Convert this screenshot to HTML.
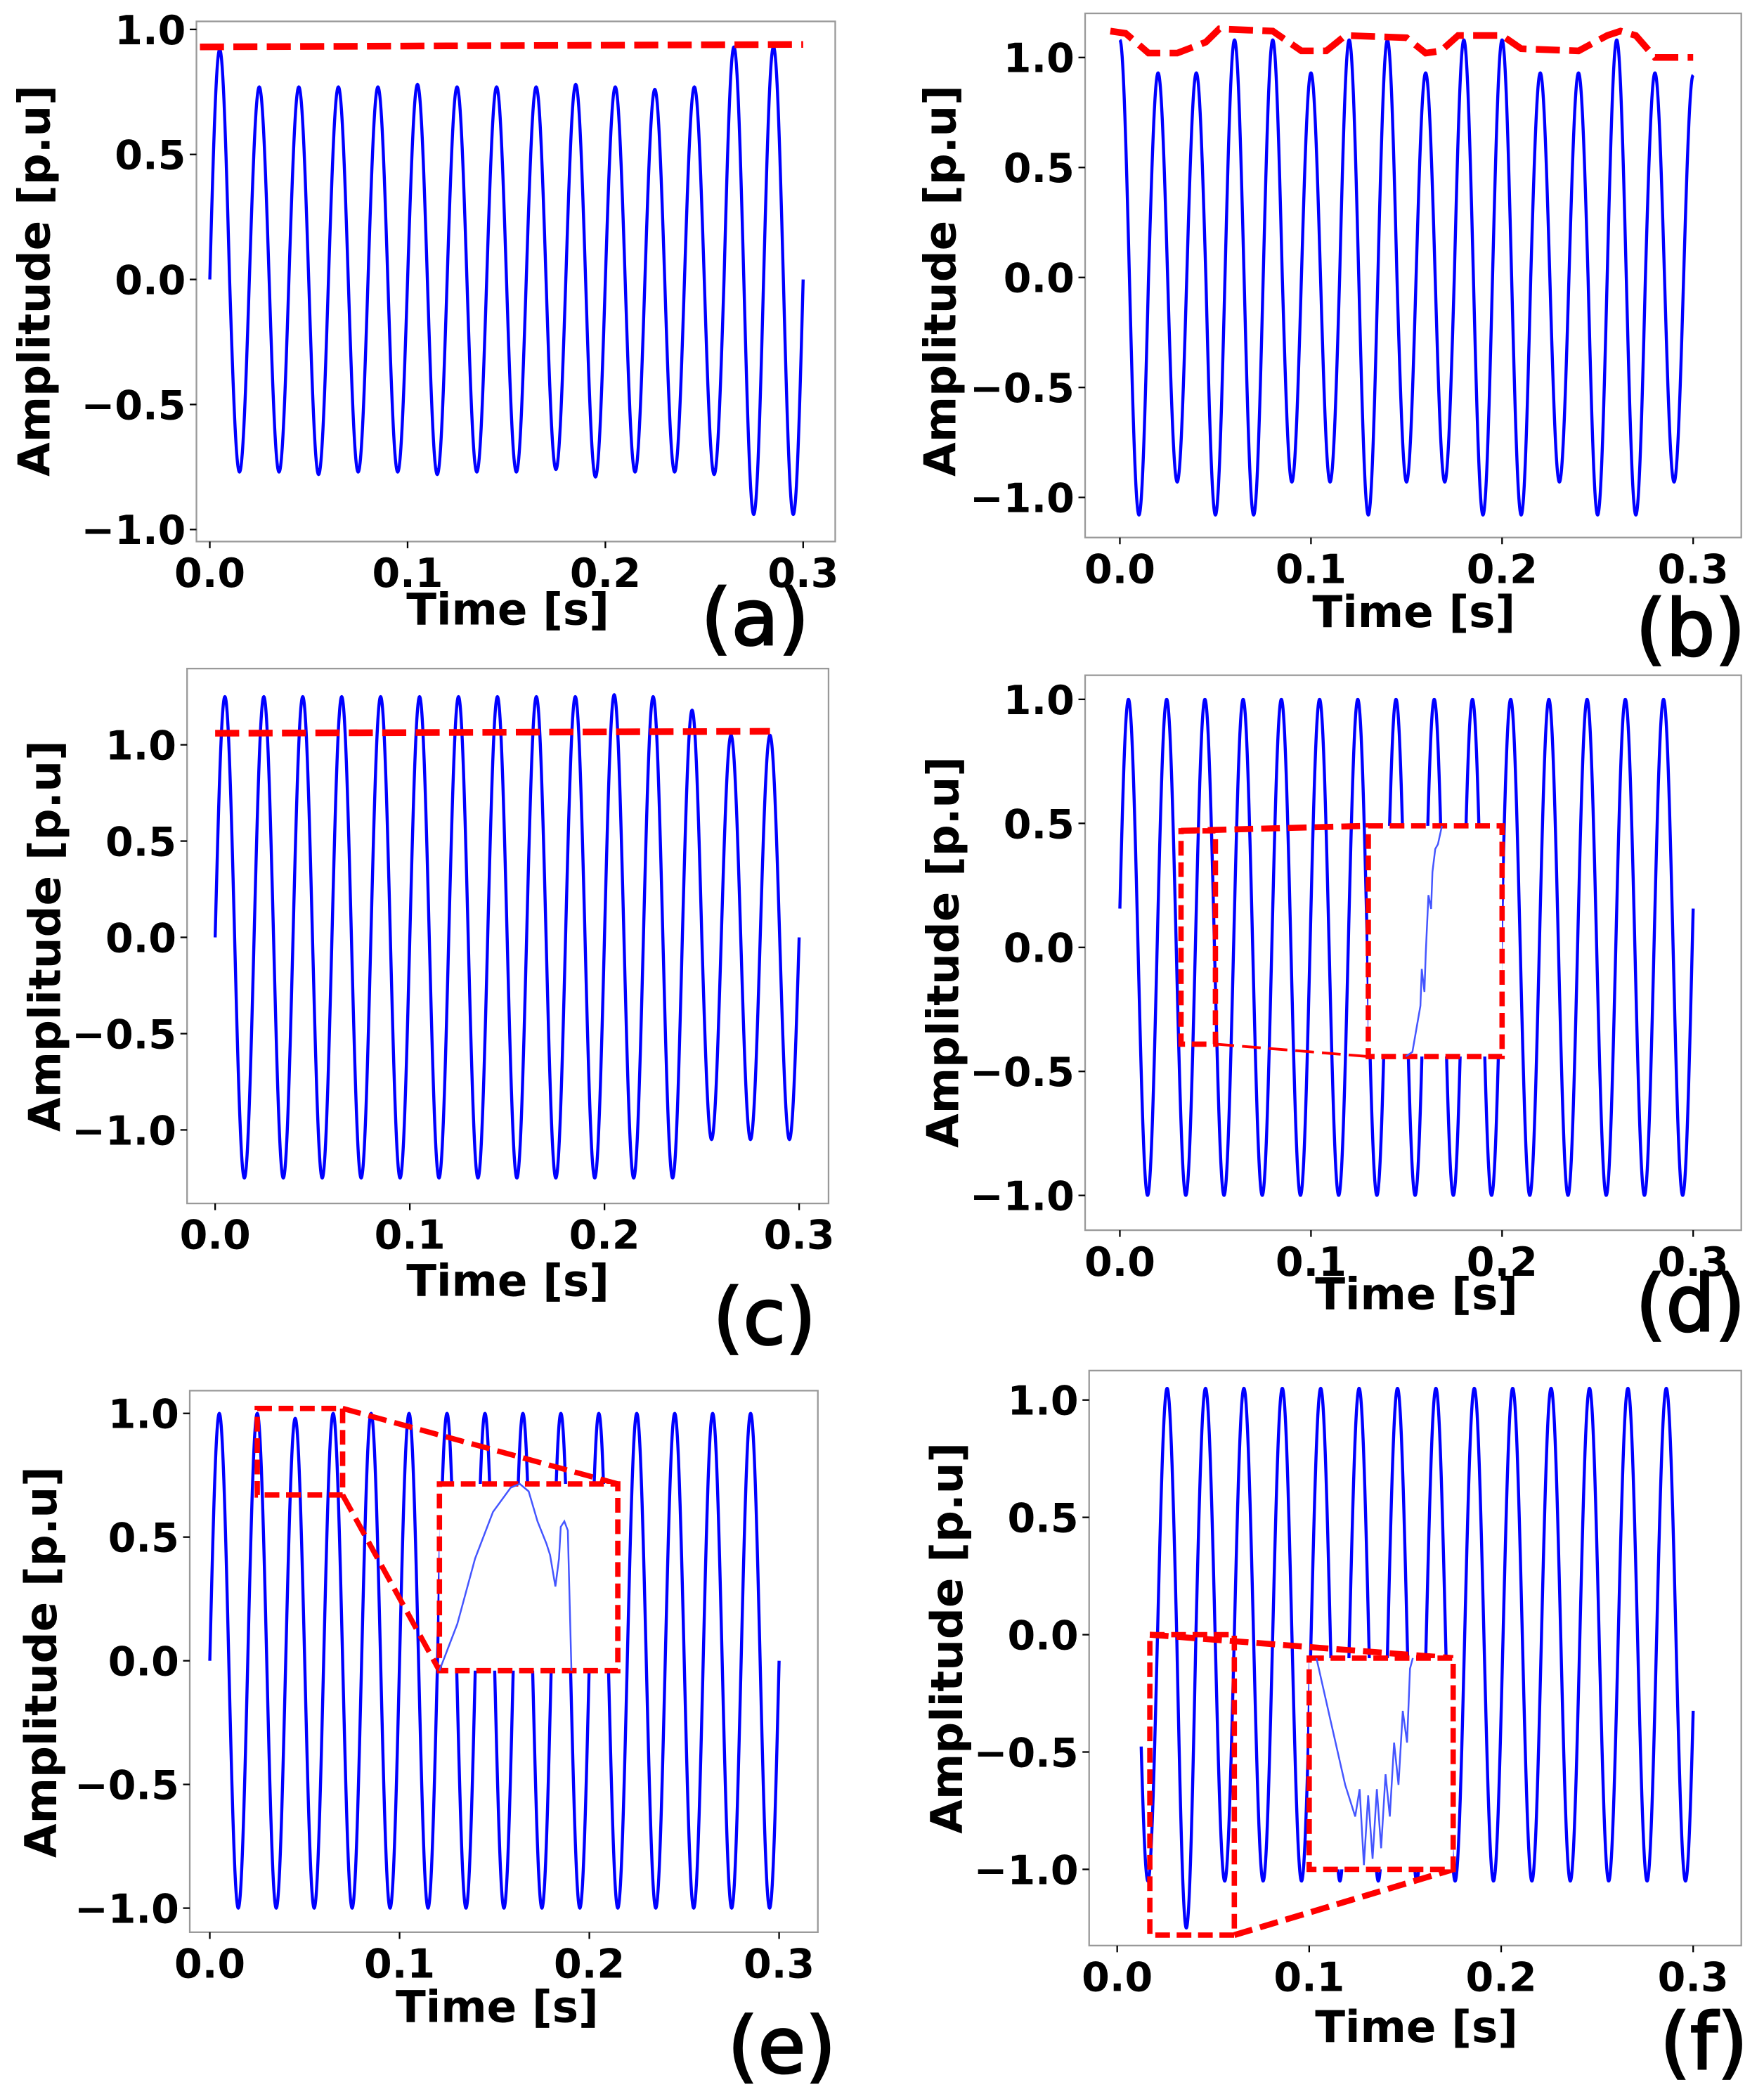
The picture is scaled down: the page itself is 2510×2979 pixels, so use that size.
<!DOCTYPE html>
<html><head><meta charset="utf-8"><style>
html,body{margin:0;padding:0;background:#fff}
svg{display:block}
text{font-family:"DejaVu Sans","Liberation Sans",sans-serif;font-weight:bold;fill:#000}
</style></head><body>
<svg id="fig" width="2510" height="2979" viewBox="0 0 1320 1566" preserveAspectRatio="none" xmlns="http://www.w3.org/2000/svg"></svg>
<script>
// ---- data ----
const xTicks = [0.0, 0.1, 0.2, 0.3];
const xTickLabels = ["0.0", "0.1", "0.2", "0.3"];
const yTicksAll = [1.0, 0.5, 0.0, -0.5, -1.0];
const yTickLabelsAll = ["1.0", "0.5", "0.0", "\u22120.5", "\u22121.0"];
const panelLetters = ["(a)", "(b)", "(c)", "(d)", "(e)", "(f)"];

const posA = [0.92,0.77,0.77,0.77,0.77,0.78,0.77,0.77,0.77,0.78,0.77,0.76,0.77,0.93,0.93];
const negA = [-0.77,-0.77,-0.78,-0.77,-0.77,-0.78,-0.77,-0.77,-0.76,-0.79,-0.77,-0.77,-0.78,-0.94,-0.94];
const envA_t = [-0.005, 0.3];
const envA_v = [0.93, 0.94];

const posB = [1.08,0.93,0.93,1.08,1.08,0.93,1.08,1.08,0.93,1.08,1.08,0.93,0.93,1.08,0.93,0.92];
const negB = [-1.08,-0.93,-1.08,-1.08,-0.93,-0.93,-1.08,-0.93,-0.93,-1.08,-1.08,-0.93,-1.08,-1.08,-0.93];
const envB_t = [-0.005,0.003,0.015,0.03,0.045,0.052,0.08,0.095,0.108,0.118,0.15,0.16,0.168,0.177,0.2,0.21,0.24,0.255,0.262,0.27,0.28,0.3];
const envB_v = [1.12,1.11,1.02,1.02,1.07,1.13,1.12,1.03,1.03,1.10,1.09,1.02,1.03,1.10,1.10,1.04,1.03,1.10,1.12,1.10,1.00,1.00];

const posC = [1.25,1.25,1.25,1.25,1.25,1.25,1.25,1.25,1.25,1.25,1.26,1.25,1.18,1.05,1.05];
const negC = [-1.25,-1.25,-1.25,-1.25,-1.25,-1.25,-1.25,-1.25,-1.25,-1.25,-1.25,-1.25,-1.05,-1.05,-1.05];
const envC_t = [0.0, 0.285];
const envC_v = [1.06, 1.07];

const posD = [1,1,1,1,1,1,1,1,1,1,1,1,1,1,1,1];
const negD = [-1,-1,-1,-1,-1,-1,-1,-1,-1,-1,-1,-1,-1,-1,-1];
const posE = [1,1,0.98,1,1,1,1,1,1,1,1,1,1,1,1];
const negE = [-1,-1,-1,-1,-1,-1,-1,-1,-1,-1,-1,-1,-1,-1,-1];
const posF = [1.05,1.05,1.05,1.05,1.05,1.05,1.05,1.05,1.05,1.05,1.05,1.05,1.05,1.05,1.05,1.05];
const negF = [-1.05,-1.25,-1.05,-1.05,-1.05,-1.05,-1.05,-1.05,-1.05,-1.05,-1.05,-1.05,-1.05,-1.05,-1.05];

// ---- layout (figure units) ----
const panels = [
 {id:"a", box:[147,16,625,405], x0:157, x3:601, y1:22, ym1:396, t0:0, t1:0.3, tp:0.005, pos:posA, neg:negA, envT:envA_t, envV:envA_v, xl:[380,455], let:[565,462], yl:[25,210]},
 {id:"b", box:[812,10,1303,402], x0:838, x3:1267, y1:43, ym1:372, t0:0, t1:0.3, tp:0.0, pos:posB, neg:negB, envT:envB_t, envV:envB_v, xl:[1058,457], let:[1265,470], yl:[703,210]},
 {id:"c", box:[140,500,620,900], x0:161, x3:598, y1:557, ym1:845, t0:0, t1:0.3, tp:0.005, pos:posC, neg:negC, envT:envC_t, envV:envC_v, xl:[380,957], let:[572,985], yl:[33,700]},
 {id:"d", box:[812,505,1303,920], x0:838, x3:1267, y1:523, ym1:894, t0:0, t1:0.3, tp:0.0045, pos:posD, neg:negD, xl:[1060,967], let:[1265,975], yl:[705,712]},
 {id:"e", box:[142,1040,612,1445], x0:157, x3:583, y1:1057, ym1:1427, t0:0, t1:0.3, tp:0.005, pos:posE, neg:negE, xl:[372,1500], let:[585,1530], yl:[30,1243]},
 {id:"f", box:[815,1025,1303,1455], x0:836, x3:1267, y1:1047, ym1:1398, t0:0.0125, t1:0.3, tp:0.006, pos:posF, neg:negF, xl:[1060,1515], let:[1275,1527], yl:[708,1225]}
];

const NS = "http://www.w3.org/2000/svg";
const svg = document.getElementById("fig");
function mk(tag, attrs, parent){ const e=document.createElementNS(NS,tag); for(const k in attrs) e.setAttribute(k,attrs[k]); (parent||svg).appendChild(e); return e; }

function wave(p, t){
  const ph = (t - p.tp) * 50;
  const c = Math.cos(2*Math.PI*ph);
  if (c >= 0){ let k = Math.round(ph); k=Math.max(0,Math.min(p.pos.length-1,k)); return c*p.pos[k]; }
  let k = Math.round(ph - 0.5); k=Math.max(0,Math.min(p.neg.length-1,k)); return -c*p.neg[k];
}

panels.forEach((p, i) => {
  const g = mk("g", {});
  
  
  const X = t => p.x0 + (t/0.3)*(p.x3-p.x0);
  const Y = v => p.y1 + (1-v)/2*(p.ym1-p.y1);
  const [bx0,by0,bx1,by1] = p.box;
  const fr = mk("rect", {x:bx0,y:by0,width:bx1-bx0,height:by1-by0,fill:"none",stroke:"#999","stroke-width":1.2}, g);
  
  
  xTicks.forEach((t,j)=>{
    mk("line",{x1:X(t),x2:X(t),y1:by1,y2:by1+5,stroke:"#000","stroke-width":1.2},g);
    const tx = mk("text",{x:X(t),y:by1+34,"text-anchor":"middle","font-size":30},g);
    tx.textContent = xTickLabels[j];
    
    
  });
  yTicksAll.forEach((v,j)=>{
    mk("line",{x1:bx0-5,x2:bx0,y1:Y(v),y2:Y(v),stroke:"#000","stroke-width":1.2},g);
    const tx = mk("text",{x:bx0-8,y:Y(v)+11,"text-anchor":"end","font-size":30},g);
    tx.textContent = yTickLabelsAll[j];
    
    
  });
  const xl = mk("text",{x:p.xl[0],y:p.xl[1]+12,"text-anchor":"middle","font-size":33},g);
  xl.textContent = "Time [s]";
  
  
  const yl = mk("text",{x:0,y:0,"text-anchor":"middle","font-size":33,transform:`translate(${p.yl[0]+12},${p.yl[1]}) rotate(-90)`},g);
  yl.textContent = "Amplitude [p.u]";
  
  
  const lt = mk("text",{x:p.let[0],y:p.let[1]+20,"text-anchor":"middle","font-size":58,stroke:"#000","stroke-width":1.5},g);
  lt.style.fontWeight = "normal";
  lt.textContent = panelLetters[i];
  
  
  let d = "";
  const N = 1500;
  for (let s=0; s<=N; s++){
    const t = p.t0 + (p.t1-p.t0)*s/N;
    d += (s?"L":"M") + X(t).toFixed(2) + "," + Y(wave(p,t)).toFixed(2);
  }
  const sig = mk("path",{d:d,fill:"none",stroke:"#0000ff","stroke-width":2.3,"stroke-linejoin":"round"},g);
  
  
  if (p.envT){
    let e = "";
    p.envT.forEach((t,k)=>{ e += (k?"L":"M") + X(t) + "," + Y(p.envV[k]); });
    const env = mk("path",{d:e,fill:"none",stroke:"#ff0000","stroke-width":5,"stroke-dasharray":"18 7"},g);
    
    
  }
  p.X = X; p.Y = Y; p.g = g;
});

// ---- zoom insets ----
function rectDD(p, t0, t1, v0, v1, name, fill){
  const r = mk("rect",{x:p.X(t0),y:p.Y(v0),width:p.X(t1)-p.X(t0),height:p.Y(v1)-p.Y(v0),fill:fill?"#fff":"none",stroke:"#ff0000","stroke-width":4,"stroke-dasharray":"11 5"},p.g);
  
  
  return r;
}
function lineDD(p, a, b, w, name){
  const l = mk("line",{x1:p.X(a[0]),y1:p.Y(a[1]),x2:p.X(b[0]),y2:p.Y(b[1]),stroke:"#ff0000","stroke-width":w,"stroke-dasharray":"14 6"},p.g);
  
  
}
function insetLine(p, t0,t1,v0,v1, ux, uy){
  let d="";
  ux.forEach((u,k)=>{ d += (k?"L":"M") + (p.X(t0)+u*(p.X(t1)-p.X(t0))).toFixed(1) + "," + (p.Y(v0)+uy[k]*(p.Y(v1)-p.Y(v0))).toFixed(1); });
  const l = mk("path",{d:d,fill:"none",stroke:"#4455ff","stroke-width":1.3},p.g);
  
  
}
// (d)
const dP = panels[3];
const insD_u = [0.28,0.33,0.36,0.39,0.40,0.42,0.43,0.45,0.47,0.48,0.5,0.52,0.55];
const insD_v = [1.0,0.98,0.88,0.78,0.62,0.72,0.55,0.3,0.36,0.2,0.1,0.08,0.0];
lineDD(dP,[0.032,0.47],[0.13,0.49],4.5,'zoom-connector-top');
lineDD(dP,[0.05,-0.39],[0.13,-0.44],2,'zoom-connector-bottom');
rectDD(dP,0.032,0.05,0.47,-0.39,'zoom-source-box',false);
rectDD(dP,0.13,0.2,0.49,-0.44,'zoom-inset-box',true);
insetLine(dP,0.13,0.2,0.49,-0.44,insD_u,insD_v);
// (e)
const eP = panels[4];
const insE_u = [0.0,0.1,0.2,0.3,0.4,0.45,0.5,0.55,0.6,0.62,0.65,0.67,0.68,0.7,0.72,0.74];
const insE_v = [1.0,0.75,0.4,0.15,0.02,0.0,0.04,0.2,0.32,0.38,0.55,0.4,0.23,0.2,0.25,1.0];
lineDD(eP,[0.07,1.02],[0.215,0.715],4,'zoom-connector-top');
lineDD(eP,[0.07,0.67],[0.121,-0.04],4,'zoom-connector-bottom');
rectDD(eP,0.025,0.07,1.02,0.67,'zoom-source-box',false);
rectDD(eP,0.121,0.215,0.715,-0.04,'zoom-inset-box',true);
insetLine(eP,0.121,0.215,0.715,-0.04,insE_u,insE_v);
// (f)
const fP = panels[5];
const insF_u = [0.05,0.15,0.25,0.32,0.35,0.38,0.41,0.44,0.47,0.5,0.53,0.56,0.59,0.62,0.65,0.68,0.7,0.72];
const insF_v = [0.0,0.3,0.6,0.75,0.62,0.98,0.65,0.95,0.62,0.9,0.55,0.75,0.4,0.6,0.25,0.4,0.05,0.0];
lineDD(fP,[0.017,0.0],[0.175,-0.1],4.5,'zoom-connector-top');
lineDD(fP,[0.061,-1.28],[0.175,-1.0],4.5,'zoom-connector-bottom');
rectDD(fP,0.017,0.061,0.0,-1.28,'zoom-source-box',false);
rectDD(fP,0.1,0.175,-0.1,-1.0,'zoom-inset-box',true);
insetLine(fP,0.1,0.175,-0.1,-1.0,insF_u,insF_v);
</script>
</body></html>
